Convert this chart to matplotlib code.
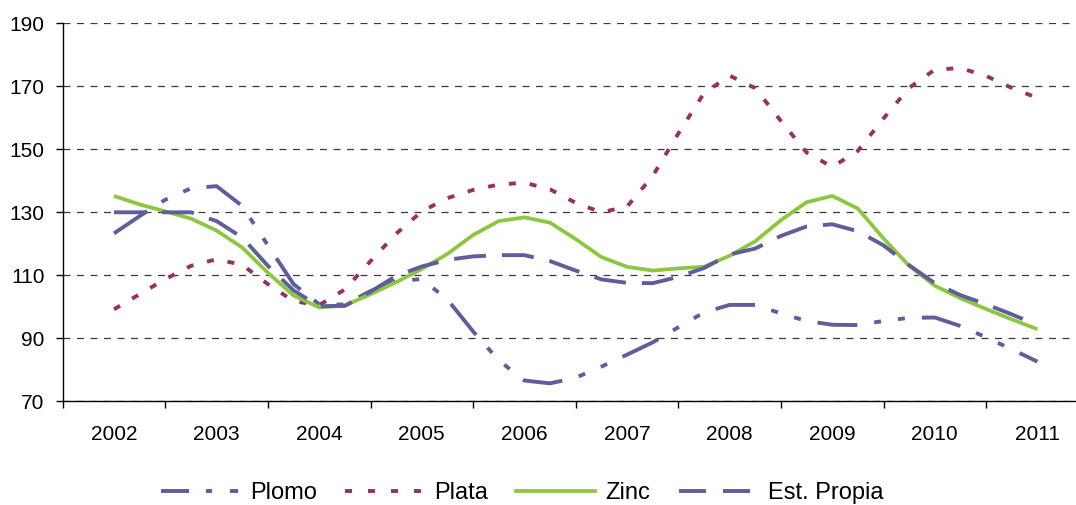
import numpy as np
import matplotlib
matplotlib.use("Agg")
import matplotlib.pyplot as plt
from matplotlib.lines import Line2D

plt.rcParams['font.family'] = ['Liberation Sans', 'DejaVu Sans']
plt.rcParams['lines.scale_dashes'] = False

years = ['2002', '2003', '2004', '2005', '2006', '2007', '2008', '2009', '2010', '2011']
quarter_index = np.arange(37)  # quarterly points, 2002 -> 2011

plomo = [123.3, 128.8, 134.0, 137.6, 138.3, 132.0, 119.5, 107.2, 100.8, 100.7,
         105.0, 108.2, 108.8, 102.3, 92.2, 83.0, 76.6, 75.7, 77.5, 81.0,
         84.8, 88.7, 93.5, 98.2, 100.6, 100.6, 97.9, 95.5, 94.3, 94.2,
         95.5, 96.5, 96.6, 93.9, 90.3, 86.5, 82.6]
plata = [99.2, 104.0, 108.8, 113.0, 115.1, 113.3, 107.2, 101.8, 100.5, 105.5,
         114.5, 123.2, 130.3, 134.5, 137.1, 138.8, 139.4, 137.3, 133.0, 130.0,
         131.8, 141.5, 155.0, 167.8, 173.4, 169.4, 159.0, 149.0, 144.4, 149.5,
         159.8, 169.5, 175.3, 175.8, 173.3, 169.5, 166.3]
zinc = [135.2, 132.5, 130.3, 128.0, 124.2, 118.8, 110.8, 103.6, 99.8, 100.4,
        104.0, 107.8, 112.0, 116.8, 122.8, 127.2, 128.4, 126.7, 121.5, 115.8,
        112.7, 111.5, 112.2, 112.7, 116.2, 120.8, 127.5, 133.2, 135.2, 131.2,
        121.7, 113.0, 106.7, 102.7, 99.3, 96.0, 92.9]
est_propia = [130.0, 130.0, 130.0, 130.0, 127.2, 122.0, 113.0, 105.2, 100.2, 100.3,
              104.8, 109.8, 112.8, 114.9, 116.0, 116.4, 116.4, 114.5, 111.5, 108.7,
              107.6, 107.5, 109.5, 112.3, 116.6, 118.5, 122.5, 125.5, 126.2, 124.0,
              119.5, 113.2, 107.5, 103.7, 100.8, 97.6, 94.2]

series_names = ['Plomo', 'Plata', 'Zinc', 'Est. Propia']
yticks = [70, 90, 110, 130, 150, 170, 190]

W, H = 1076, 505
fig = plt.figure(figsize=(W / 100, H / 100), dpi=100)
left_px, right_px = 62.7, 62.7 + 10 * 102.6
top_px, bot_px = 23.3, 401.3
ax = fig.add_axes([left_px / W, (H - bot_px) / H, (right_px - left_px) / W, (bot_px - top_px) / H])

x = quarter_index / 4.0
blue = '#5F5E9C'
mag = '#97315F'
green = '#8DC63F'
px = 0.72
lw = 2.8

style_plomo = (0, (40 * px, 17 * px, 7 * px, 17 * px, 7 * px, 17 * px))
style_plata = (0, (7 * px, 14 * px))
style_est = (0, (32 * px, 16 * px))

ax.plot(x, plomo, color=blue, lw=lw, dash_capstyle='butt', linestyle=style_plomo)
ax.plot(x, plata, color=mag, lw=lw, dash_capstyle='butt', linestyle=style_plata)
ax.plot(x, zinc, color=green, lw=2.7, solid_capstyle='butt')
ax.plot(x, est_propia, color=blue, lw=lw, dash_capstyle='butt', linestyle=style_est)

ax.set_xlim(-0.5, 9.5)
ax.set_ylim(70, 190)
ax.set_yticks(yticks)
ax.set_yticklabels([str(v) for v in yticks], fontsize=15)
ax.set_xticks(np.arange(len(years) + 1) - 0.5)
ax.set_xticklabels([])
ax.set_xticks(np.arange(len(years)), minor=True)
ax.set_xticklabels(years, minor=True, fontsize=15)
ax.tick_params(axis='x', which='major', length=5, width=1, color='black', direction='out')
ax.tick_params(axis='x', which='minor', length=0, pad=17)
ax.tick_params(axis='y', length=5, width=1, color='black', direction='out', pad=8)

ax.grid(axis='y', linestyle=(0, (7 * px, 6.5 * px)), color='#3a3a3a', lw=0.9)
ax.set_axisbelow(True)
for s in ['top', 'right']:
    ax.spines[s].set_visible(False)
for s in ['left', 'bottom']:
    ax.spines[s].set_linewidth(1.0)
    ax.spines[s].set_color('black')

# legend handles with the compact dash patterns seen in the legend swatches
handles = [
    Line2D([], [], color=blue, lw=lw, dash_capstyle='butt',
           linestyle=(0, (28 * px, 17 * px, 6 * px, 18 * px, 8 * px, 10 * px))),
    Line2D([], [], color=mag, lw=lw, dash_capstyle='butt',
           linestyle=(0, (7 * px, 16 * px))),
    Line2D([], [], color=green, lw=2.7),
    Line2D([], [], color=blue, lw=lw, dash_capstyle='butt',
           linestyle=(0, (27 * px, 17 * px))),
]
fig.legend(handles, series_names, loc='center', bbox_to_anchor=(522 / W, 12 / H), ncol=4,
           frameon=False, fontsize=17, handlelength=3.35, handletextpad=0.42,
           columnspacing=1.2)

fig.savefig('out.png', dpi=100)
